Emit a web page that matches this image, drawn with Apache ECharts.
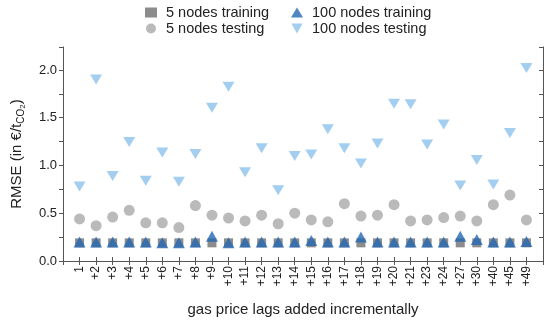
<!DOCTYPE html>
<html>
<head>
<meta charset="utf-8">
<script src="https://cdn.jsdelivr.net/npm/echarts@6/dist/echarts.min.js"></script>
<style>html,body{margin:0;padding:0;background:#fff}#c{width:550px;height:322px}</style>
</head>
<body>
<div id="c"></div>
<script>
var categories = ['1','+2','+3','+4','+5','+6','+7','+8','+9','+10','+11','+12','+13','+14','+15','+16','+17','+18','+19','+20','+21','+23','+24','+27','+30','+40','+45','+49'];
var train5 = [0.19,0.19,0.19,0.19,0.19,0.19,0.19,0.19,0.19,0.19,0.19,0.19,0.19,0.19,0.19,0.19,0.19,0.19,0.19,0.19,0.19,0.19,0.19,0.19,0.19,0.19,0.19,0.19];
var test5 = [0.44,0.37,0.46,0.53,0.40,0.40,0.35,0.58,0.48,0.45,0.42,0.48,0.39,0.50,0.43,0.41,0.60,0.47,0.48,0.59,0.42,0.43,0.455,0.47,0.42,0.59,0.69,0.43];
var train100 = [0.20,0.20,0.20,0.20,0.20,0.19,0.19,0.20,0.26,0.19,0.20,0.20,0.20,0.20,0.215,0.20,0.20,0.25,0.20,0.20,0.20,0.20,0.20,0.26,0.225,0.20,0.20,0.205];
var test100 = [0.78,1.90,0.89,1.245,0.84,1.135,0.83,1.12,1.605,1.824,0.93,1.18,0.74,1.10,1.114,1.38,1.18,1.02,1.23,1.646,1.64,1.22,1.43,0.79,1.056,0.80,1.34,2.02];
var yTicks = [0, 0.5, 1.0, 1.5, 2.0];

var axisCats = [' '].concat(categories).concat(['  ']);
function pts(arr){ return arr.map(function(v,i){ return [i+1, v]; }); }

var downTri = 'path://M0,0 L10,0 L5,9 Z';
var font = 'Liberation Sans, Arial, sans-serif';
var legendText = {fontSize: 14.5, color: '#222', fontFamily: font, padding: [0, 0, 0, 4]};
var chart = echarts.init(document.getElementById('c'));
chart.setOption({
  animation: false,
  textStyle: {fontFamily: font},
  legend: [{
    orient: 'vertical', left: 140, top: 0, itemGap: 1, itemWidth: 12, itemHeight: 10,
    textStyle: legendText,
    data: [{name: '5 nodes training', icon: 'rect'}, {name: '5 nodes testing', icon: 'circle'}]
  }, {
    orient: 'vertical', left: 286, top: 0, itemGap: 1, itemWidth: 12, itemHeight: 10,
    textStyle: legendText,
    data: [{name: '100 nodes training', icon: 'triangle'}, {name: '100 nodes testing', icon: downTri}]
  }],
  grid: {left: 63, right: 7, top: 47, bottom: 58, containLabel: false},
  xAxis: [{
    type: 'category', data: axisCats, boundaryGap: false, position: 'bottom',
    axisLine: {show: true, lineStyle: {color: '#555', width: 1}},
    axisTick: {show: true, inside: true, length: 4, interval: 0, lineStyle: {color: '#555'}},
    axisLabel: {interval: 0, rotate: 90, fontSize: 12, color: '#222', margin: 5, fontFamily: font},
    name: 'gas price lags added incrementally', nameLocation: 'middle', nameGap: 41,
    nameTextStyle: {fontSize: 15, color: '#222', fontFamily: font},
    splitLine: {show: false}
  }, {
    type: 'category', data: axisCats, boundaryGap: false, position: 'top',
    axisLine: {show: true, lineStyle: {color: '#555', width: 1}},
    axisTick: {show: true, inside: true, length: 4, interval: 0, lineStyle: {color: '#555'}},
    axisLabel: {show: false}, splitLine: {show: false}
  }],
  yAxis: [{
    type: 'value', min: 0, max: 2.24, interval: 0.25, position: 'left',
    axisLine: {show: true, lineStyle: {color: '#555', width: 1}},
    axisTick: {show: true, inside: false, length: 4, lineStyle: {color: '#555'}},
    axisLabel: {fontSize: 13, color: '#222', margin: 6, fontFamily: font,
      formatter: function(v){ for (var k=0;k<yTicks.length;k++){ if (Math.abs(v-yTicks[k])<1e-6) return yTicks[k].toFixed(1);} return ''; }},
    splitLine: {show: false},
    name: 'RMSE (in €/t{s|CO}{ss|2})', nameLocation: 'middle', nameGap: 36, nameRotate: 90,
    nameTextStyle: {fontSize: 15, color: '#222', fontFamily: font,
      rich: {s: {fontSize: 10, color: '#222', fontFamily: font, padding: [9, 0, 0, 0]},
             ss: {fontSize: 8, color: '#222', fontFamily: font, padding: [13, 0, 0, 0]}}}
  }, {
    type: 'value', min: 0, max: 2.24, interval: 0.25, position: 'right',
    axisLine: {show: true, lineStyle: {color: '#555', width: 1}},
    axisTick: {show: true, inside: true, length: 4, lineStyle: {color: '#555'}},
    axisLabel: {show: false}, splitLine: {show: false}
  }],
  series: [{
    name: '5 nodes testing', type: 'scatter', data: pts(test5),
    symbol: 'circle', symbolSize: 11, itemStyle: {color: '#a9a9a9'}
  }, {
    name: '100 nodes testing', type: 'scatter', data: pts(test100),
    symbol: 'triangle', symbolRotate: 180, symbolSize: [12, 10], itemStyle: {color: '#8cc2ec'}
  }, {
    name: '5 nodes training', type: 'scatter', data: pts(train5),
    symbol: 'rect', symbolSize: 9, itemStyle: {color: '#6f6f6f'}
  }, {
    name: '100 nodes training', type: 'scatter', data: pts(train100),
    symbol: 'triangle', symbolSize: [12, 11], itemStyle: {color: '#2468b2'}
  }]
});
</script>
</body>
</html>
